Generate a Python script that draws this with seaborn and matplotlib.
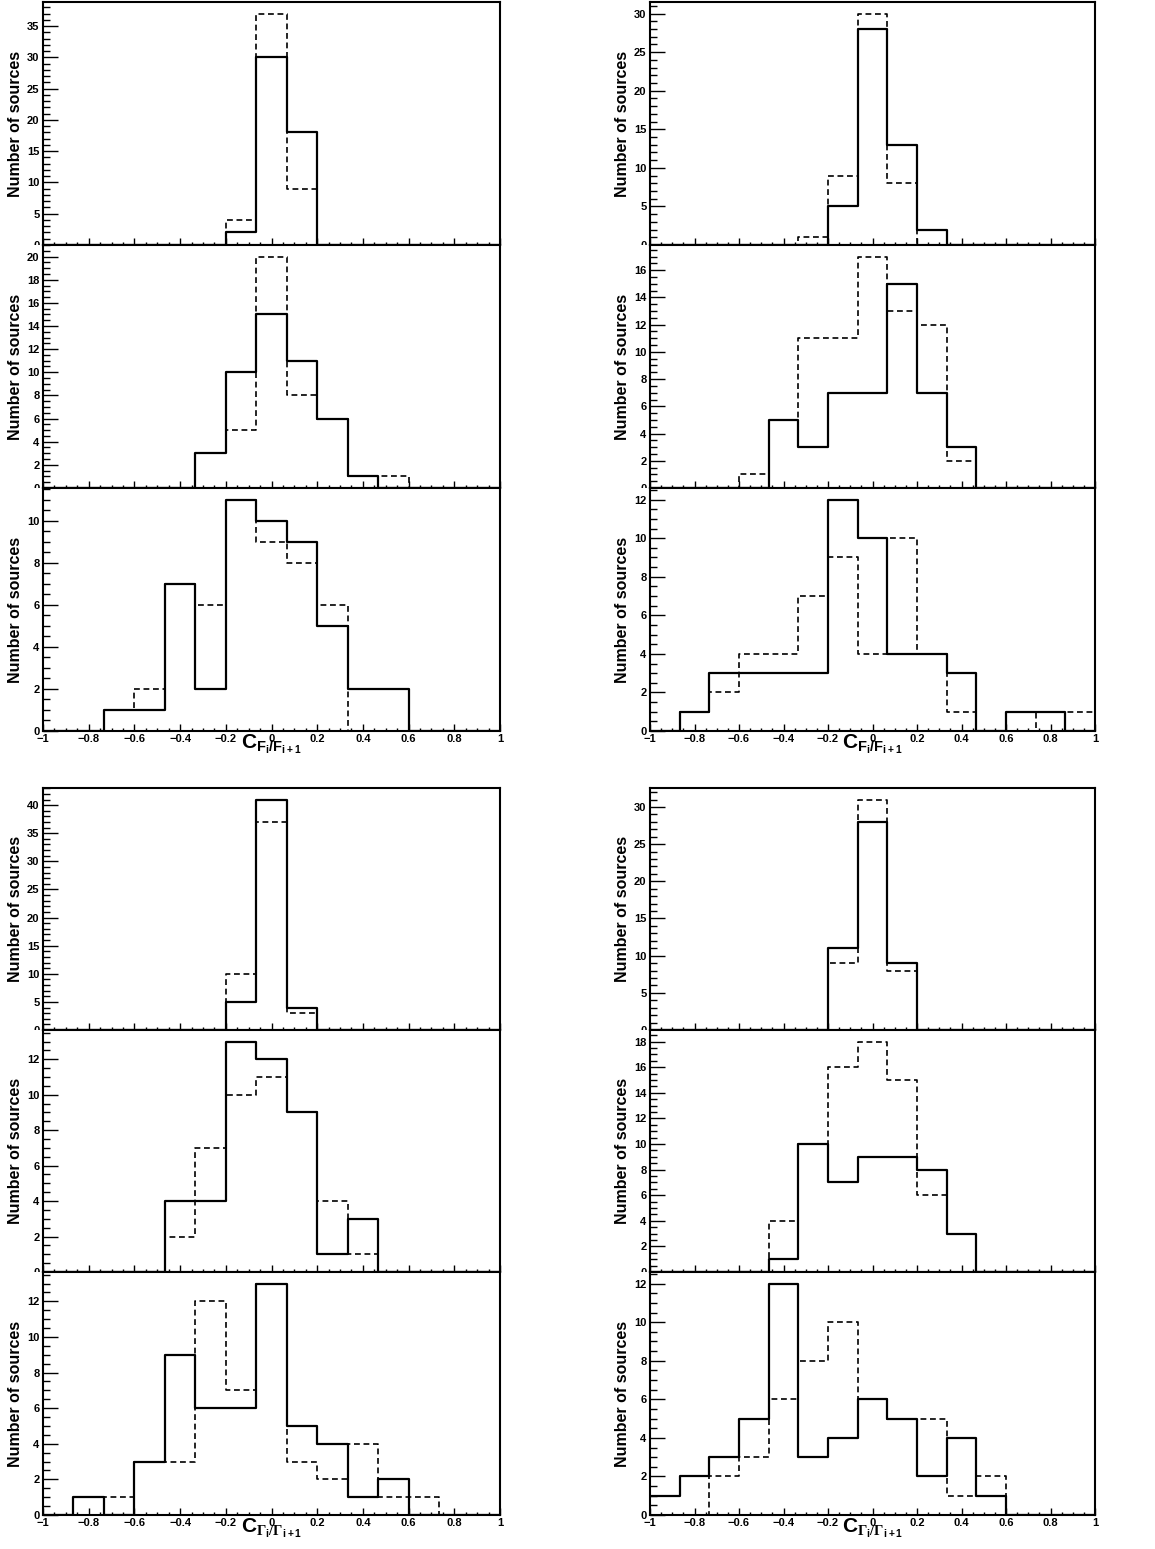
import numpy as np
import pandas as pd
import matplotlib
matplotlib.use("Agg")
import matplotlib.pyplot as plt
from matplotlib.ticker import MultipleLocator, FuncFormatter
from matplotlib.transforms import Bbox, TransformedBbox
import seaborn as sns

# ---------------- data (15 bins from -1 to 1) ----------------
bin_edges = np.linspace(-1, 1, 16)
bin_centers = 0.5 * (bin_edges[:-1] + bin_edges[1:])

# Flux correlation C_{F_i/F_{i+1}} -- left column
fl1_solid = [0, 0, 0, 0, 0, 0, 2, 30, 18, 0, 0, 0, 0, 0, 0]
fl1_dash  = [0, 0, 0, 0, 0, 0, 4, 37, 9, 0, 0, 0, 0, 0, 0]
fl2_solid = [0, 0, 0, 0, 0, 3, 10, 15, 11, 6, 1, 0, 0, 0, 0]
fl2_dash  = [0, 0, 0, 0, 0, 3, 5, 20, 8, 6, 1, 1, 0, 0, 0]
fl3_solid = [0, 0, 1, 1, 7, 2, 11, 10, 9, 5, 2, 2, 0, 0, 0]
fl3_dash  = [0, 0, 1, 2, 7, 6, 11, 9, 8, 6, 0, 0, 0, 0, 0]

# Flux correlation -- right column
fr1_solid = [0, 0, 0, 0, 0, 0, 5, 28, 13, 2, 0, 0, 0, 0, 0]
fr1_dash  = [0, 0, 0, 0, 0, 1, 9, 30, 8, 0, 0, 0, 0, 0, 0]
fr2_solid = [0, 0, 0, 0, 5, 3, 7, 7, 15, 7, 3, 0, 0, 0, 0]
fr2_dash  = [0, 0, 0, 1, 5, 11, 11, 17, 13, 12, 2, 0, 0, 0, 0]
fr3_solid = [0, 1, 3, 3, 3, 3, 12, 10, 4, 4, 3, 0, 1, 1, 0]
fr3_dash  = [0, 1, 2, 4, 4, 7, 9, 4, 10, 4, 1, 0, 0, 1, 1]

# Index correlation C_{Gamma_i/Gamma_{i+1}} -- left column
gl1_solid = [0, 0, 0, 0, 0, 0, 5, 41, 4, 0, 0, 0, 0, 0, 0]
gl1_dash  = [0, 0, 0, 0, 0, 0, 10, 37, 3, 0, 0, 0, 0, 0, 0]
gl2_solid = [0, 0, 0, 0, 4, 4, 13, 12, 9, 1, 3, 0, 0, 0, 0]
gl2_dash  = [0, 0, 0, 0, 2, 7, 10, 11, 9, 4, 1, 0, 0, 0, 0]
gl3_solid = [0, 1, 0, 3, 9, 6, 6, 13, 5, 4, 1, 2, 0, 0, 0]
gl3_dash  = [0, 0, 1, 3, 3, 12, 7, 13, 3, 2, 4, 1, 1, 0, 0]

# Index correlation -- right column
gr1_solid = [0, 0, 0, 0, 0, 0, 11, 28, 9, 0, 0, 0, 0, 0, 0]
gr1_dash  = [0, 0, 0, 0, 0, 0, 9, 31, 8, 0, 0, 0, 0, 0, 0]
gr2_solid = [0, 0, 0, 0, 1, 10, 7, 9, 9, 8, 3, 0, 0, 0, 0]
gr2_dash  = [0, 0, 0, 0, 4, 10, 16, 18, 15, 6, 3, 0, 0, 0, 0]
gr3_solid = [1, 2, 3, 5, 12, 3, 4, 6, 5, 2, 4, 1, 0, 0, 0]
gr3_dash  = [0, 0, 2, 3, 6, 8, 10, 6, 5, 5, 1, 2, 0, 0, 0]

ylabel_text = "Number of sources"
xlabel_F = r"$\mathbf{C}_{\mathbf{F}_{\mathbf{i}}\mathbf{/F}_{\mathbf{i+1}}}$"
xlabel_G = r"$\mathbf{C}_{\Gamma_{\mathbf{i}}/\Gamma_{\mathbf{i+1}}}$"

# ---------------- style ----------------
sns.set_style("ticks")
plt.rcParams["font.family"] = ["Liberation Sans", "DejaVu Sans"]
plt.rcParams["font.weight"] = "bold"
plt.rcParams["mathtext.fontset"] = "custom"
plt.rcParams["mathtext.rm"] = "Liberation Serif"
plt.rcParams["mathtext.bf"] = "Liberation Sans:bold"
plt.rcParams["mathtext.it"] = "Liberation Sans:italic:bold"
plt.rcParams["axes.unicode_minus"] = True
for key in ["text.color", "axes.labelcolor", "xtick.color", "ytick.color",
            "axes.edgecolor", "xtick.labelcolor", "ytick.labelcolor"]:
    plt.rcParams[key] = "black"

W, H = 1155, 1549
fig = plt.figure(figsize=(W / 100, H / 100), dpi=100)
fig.patch.set_facecolor("white")

top_rows = [(2, 245), (245, 488), (488, 731)]
bot_rows = [(788, 1030), (1030, 1272), (1272, 1515)]
left_col = (43, 457, 0)
right_col = (650, 445, 580)

groups = [
    (left_col, top_rows, [(fl1_solid, fl1_dash), (fl2_solid, fl2_dash), (fl3_solid, fl3_dash)], xlabel_F),
    (right_col, top_rows, [(fr1_solid, fr1_dash), (fr2_solid, fr2_dash), (fr3_solid, fr3_dash)], xlabel_F),
    (left_col, bot_rows, [(gl1_solid, gl1_dash), (gl2_solid, gl2_dash), (gl3_solid, gl3_dash)], xlabel_G),
    (right_col, bot_rows, [(gr1_solid, gr1_dash), (gr2_solid, gr2_dash), (gr3_solid, gr3_dash)], xlabel_G),
]


def xfmt(v, pos):
    s = "{:g}".format(round(v, 3))
    if s == "-0":
        s = "0"
    return s.replace("-", "\u2212")


for (x0, wpx, padx), rows, data, xlab in groups:
    for k, ((ytop, ybot), (solid, dashed)) in enumerate(zip(rows, data)):
        ax = fig.add_axes([x0 / W, 1 - ybot / H, wpx / W, (ybot - ytop) / H])
        ax.set_facecolor("white")
        df = pd.DataFrame({"x": bin_centers, "solid": solid, "dashed": dashed})
        sns.histplot(data=df, x="x", weights="dashed", bins=list(bin_edges), element="step",
                     fill=False, color="black", linewidth=1.2,
                     linestyle=(0, (3.5, 2.2)), ax=ax)
        sns.histplot(data=df, x="x", weights="solid", bins=list(bin_edges), element="step",
                     fill=False, color="black", linewidth=1.6, ax=ax)
        ymax = 1.05 * max(max(solid), max(dashed))
        ax.set_xlim(-1, 1)
        ax.set_ylim(0, ymax)
        if ymax > 25:
            ax.yaxis.set_major_locator(MultipleLocator(5))
            ax.yaxis.set_minor_locator(MultipleLocator(1))
        else:
            ax.yaxis.set_major_locator(MultipleLocator(2))
            ax.yaxis.set_minor_locator(MultipleLocator(0.5))
        ax.xaxis.set_major_locator(MultipleLocator(0.2))
        ax.xaxis.set_minor_locator(MultipleLocator(0.05))
        ax.xaxis.set_major_formatter(FuncFormatter(xfmt))
        ax.yaxis.set_major_formatter(FuncFormatter(lambda v, p: "{:g}".format(v)))

        ax.tick_params(axis="y", which="major", direction="in", length=10.5, width=1.0,
                       labelsize=8, pad=2.5, left=True, right=False, colors="black")
        ax.tick_params(axis="y", which="minor", direction="in", length=5, width=1.0,
                       left=True, right=False, colors="black")
        ax.tick_params(axis="x", which="major", direction="in", length=5, width=1.0,
                       labelsize=8, pad=2.5, bottom=True, top=False, colors="black")
        ax.tick_params(axis="x", which="minor", direction="in", length=2.5, width=1.0,
                       bottom=True, top=False, colors="black")
        for lab in ax.get_xticklabels() + ax.get_yticklabels():
            lab.set_fontweight("bold")
        for sp in ax.spines.values():
            sp.set_linewidth(1.5)
            sp.set_color("black")
            sp.set_visible(True)

        ax.set_xlabel("")
        ax.set_ylabel(ylabel_text, fontsize=11.5, fontweight="bold", color="black")
        ax.yaxis.set_label_coords(-20 / wpx, 0.5)

        last = (k == len(rows) - 1)
        if not last:
            ax.tick_params(axis="x", labelbottom=False)
        else:
            ax.text(0.5, -0.004, xlab, transform=ax.transAxes, ha="center", va="top",
                    fontsize=15, fontweight="bold", color="black")

        # clip tick labels to this panel's pad region (like stacked ROOT pads)
        pad_top = ytop - (40 if k == 0 else 0)
        pad_bot = ybot + (60 if last else 0)
        clip = TransformedBbox(
            Bbox([[padx / W, 1 - pad_bot / H], [(x0 + wpx) / W, 1 - pad_top / H]]),
            fig.transFigure)
        for t in ax.yaxis.get_major_ticks():
            t.label1.set_clip_on(True)
            t.label1.set_clip_box(clip)

fig.savefig("out.png", dpi=100, facecolor="white")
